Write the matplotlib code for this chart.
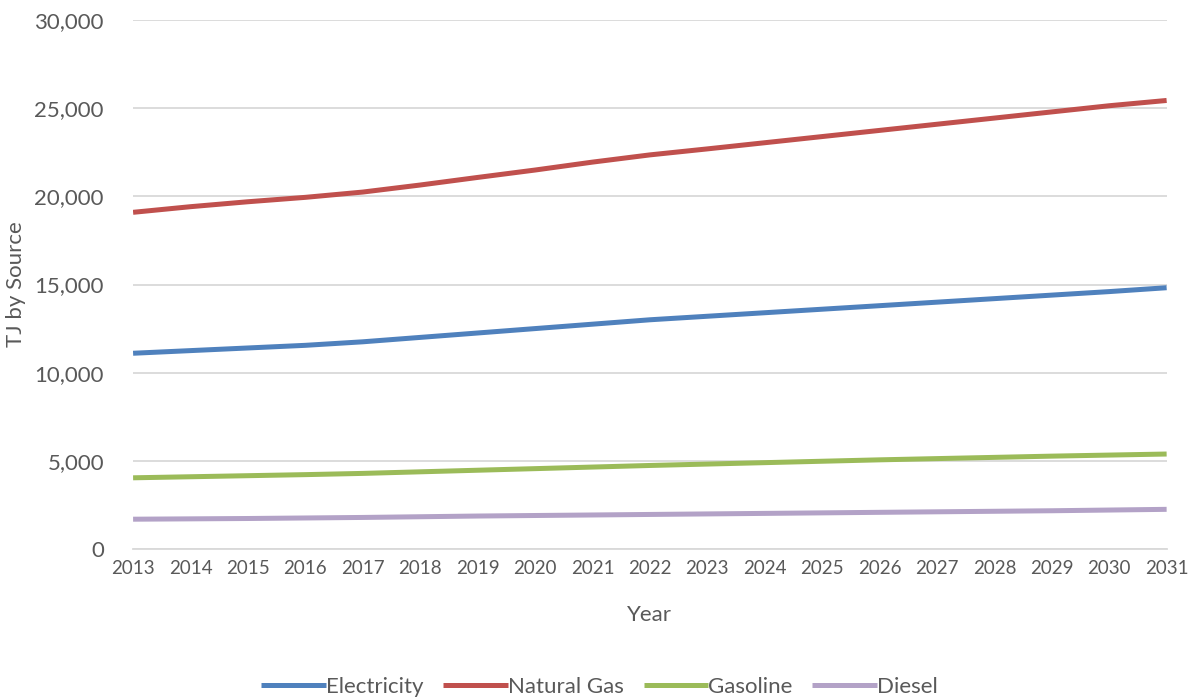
import matplotlib
matplotlib.use('Agg')
import matplotlib.pyplot as plt
from matplotlib.ticker import FuncFormatter, MultipleLocator

# Projected energy demand by source (TJ)
years = list(range(2013, 2032))
electricity = [11100, 11250, 11400, 11550, 11750, 12000, 12250, 12500, 12750, 13000,
               13200, 13400, 13600, 13800, 14000, 14200, 14400, 14600, 14820]
natural_gas = [19100, 19420, 19700, 19950, 20250, 20650, 21080, 21500, 21950, 22360,
               22700, 23050, 23400, 23750, 24100, 24450, 24800, 25150, 25450]
gasoline = [4030, 4090, 4150, 4210, 4280, 4370, 4460, 4550, 4640, 4730,
            4810, 4890, 4970, 5050, 5120, 5190, 5260, 5320, 5380]
diesel = [1680, 1700, 1720, 1750, 1780, 1820, 1860, 1890, 1920, 1950,
          1980, 2010, 2040, 2070, 2100, 2130, 2160, 2200, 2240]

series = [("Electricity", electricity, "#4F81BD"),
          ("Natural Gas", natural_gas, "#C0504D"),
          ("Gasoline", gasoline, "#9BBB59"),
          ("Diesel", diesel, "#B3A2C7")]

plt.rcParams['font.family'] = ['Lato', 'DejaVu Sans']
text_color = '#595959'

fig = plt.figure(figsize=(11.99, 7.0), dpi=100)
ax = fig.add_axes([0.111, 0.216, 0.862, 0.755])

for name, values, color in series:
    ax.plot(years, values, color=color, lw=3.6, solid_capstyle='butt', label=name)

ax.set_xlim(years[0], years[-1])
ax.set_ylim(0, 30000)
ax.yaxis.set_major_locator(MultipleLocator(5000))
ax.yaxis.set_major_formatter(FuncFormatter(lambda v, _: f"{int(v):,}"))
ax.set_xticks(years)
ax.set_xticklabels([str(y) for y in years])

ax.grid(axis='y', color='#D9D9D9', lw=1.3)
ax.set_axisbelow(True)
for side in ['top', 'right', 'left']:
    ax.spines[side].set_visible(False)
ax.spines['bottom'].set_color('#D9D9D9')
ax.spines['bottom'].set_linewidth(1.3)

ax.tick_params(axis='both', length=0, colors=text_color)
ax.tick_params(axis='y', labelsize=16, pad=21)
ax.tick_params(axis='x', labelsize=13.5, pad=8)

ax.set_xlabel("Year", fontsize=16, color=text_color, labelpad=20)
ax.set_ylabel("TJ by Source", fontsize=16, color=text_color, labelpad=6)

fig.legend(loc='lower center', bbox_to_anchor=(0.5, -0.024), ncol=4, frameon=False,
           fontsize=16, labelcolor=text_color, handlelength=2.9, handletextpad=0.0,
           columnspacing=0.9)

fig.savefig("out.png", dpi=100)
